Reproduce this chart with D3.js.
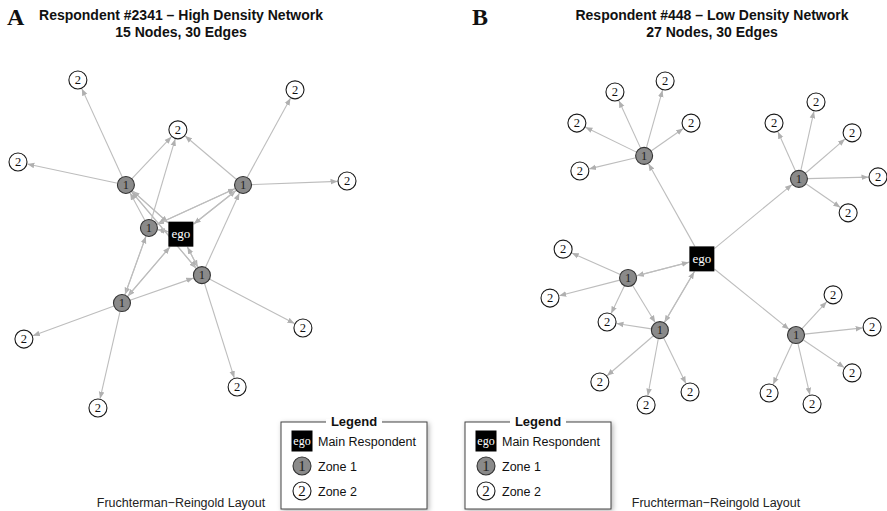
<!DOCTYPE html>
<html>
<head>
<meta charset="utf-8">
<script src="https://cdn.jsdelivr.net/npm/d3@7.9.0/dist/d3.min.js"></script>
<style>
  html, body { margin: 0; padding: 0; background: #fff; }
  svg { display: block; }
  .title { font-family: "Liberation Sans", Arial, sans-serif; font-weight: bold; font-size: 14px; fill: #111; }
  .letter { font-family: "Liberation Serif", "Times New Roman", serif; font-weight: bold; font-size: 24px; fill: #111; }
  .footer { font-family: "Liberation Sans", Arial, sans-serif; font-size: 12.5px; fill: #222; }
  .node-label { font-family: "Liberation Serif", "Times New Roman", serif; }
  .leg-text { font-family: "Liberation Sans", Arial, sans-serif; font-size: 12.5px; fill: #111; }
</style>
</head>
<body>
<svg id="chart" width="887" height="511"></svg>
<script>
// ---- data: panel A (respondent #2341) ----
// node ids, zone (0 = ego), layout coordinates (0-100 units)
const nodeIdsA  = ['ego', 'p', 'q', 'r', 's', 't', 'a', 'b', 'c', 'd', 'e', 'f', 'g', 'h', 'i'];
const nodeZoneA = [0, 1, 1, 1, 1, 1, 2, 2, 2, 2, 2, 2, 2, 2, 2];
const layoutXA  = [49.5, 32.8, 68.4, 39.8, 55.9, 31.6, 18.2, 84.2, 48.6, 0, 100, 1.8, 86.6, 66.6, 24.3];
const layoutYA  = [47.0, 32.0, 32.0, 45.1, 59.5, 68.0, 0, 3.0, 15.2, 25.0, 30.8, 79.0, 75.6, 93.6, 100];
const edgesA = [
  ['p', 'a'], ['p', 'd'], ['p', 'c'], ['q', 'c'], ['q', 'b'], ['q', 'e'], ['r', 'c'],
  ['s', 'g'], ['s', 'h'], ['t', 'f'], ['t', 'i'],
  ['ego', 'p'], ['p', 'ego'], ['ego', 'q'], ['q', 'ego'], ['ego', 'r'], ['r', 'ego'],
  ['ego', 's'], ['s', 'ego'], ['ego', 't'], ['t', 'ego'],
  ['p', 's'], ['s', 'p'], ['r', 'p'], ['q', 'r'], ['r', 'q'], ['r', 't'], ['t', 'r'],
  ['t', 's'], ['s', 'q']
];

// ---- data: panel B (respondent #448) ----
const nodeIdsB  = ['ego', 'P', 'Q', 'R', 'S', 'T',
  'p1', 'p2', 'p3', 'p4', 'p5', 'q1', 'q2', 'q3', 'q4', 'q5',
  'r1', 'r2', 'r3', 's1', 's2', 's3', 't1', 't2', 't3', 't4', 't5'];
const nodeZoneB = [0, 1, 1, 1, 1, 1, 2, 2, 2, 2, 2, 2, 2, 2, 2, 2, 2, 2, 2, 2, 2, 2, 2, 2, 2, 2, 2];
const layoutXB  = [46.3, 28.7, 75.9, 23.8, 33.5, 75.0,
  19.8, 35.1, 8.2, 43.0, 9.1, 68.3, 81.1, 92.1, 100, 90.9,
  4.0, 0, 17.4, 15.2, 29.3, 42.7, 86.3, 98.2, 92.1, 66.8, 79.9];
const layoutYB  = [54.9, 23.1, 30.2, 60.8, 76.9, 78.4,
  3.4, 0, 13.0, 13.0, 27.8, 13.0, 6.5, 16.0, 29.6, 40.7,
  51.9, 67.0, 74.4, 92.9, 100, 96.0, 66.0, 75.9, 90.1, 96.3, 99.7];
const edgesB = [
  ['P', 'p1'], ['P', 'p2'], ['P', 'p3'], ['P', 'p4'], ['P', 'p5'],
  ['Q', 'q1'], ['Q', 'q2'], ['Q', 'q3'], ['Q', 'q4'], ['Q', 'q5'],
  ['R', 'r1'], ['R', 'r2'], ['R', 'r3'],
  ['S', 'r3'], ['S', 's1'], ['S', 's2'], ['S', 's3'],
  ['T', 't1'], ['T', 't2'], ['T', 't3'], ['T', 't4'], ['T', 't5'],
  ['ego', 'P'], ['ego', 'Q'], ['ego', 'T'], ['ego', 'R'], ['R', 'ego'],
  ['ego', 'S'], ['S', 'ego'], ['R', 'S']
];

const titlesA = ['Respondent #2341 \u2013 High Density Network', '15 Nodes, 30 Edges'];
const titlesB = ['Respondent #448 \u2013 Low Density Network', '27 Nodes, 30 Edges'];
const legendItems = ['Main Respondent', 'Zone 1', 'Zone 2'];
const footerText = 'Fruchterman\u2212Reingold Layout';

const svg = d3.select('#chart');
const EGO_HALF = 12.5;
const R_Z1 = 8.5;
const R_Z2 = 9;
const EDGE_COL = '#bdbdbd';

const defs = svg.append('defs');
defs.append('marker')
    .attr('id', 'arrow')
    .attr('viewBox', '0 -5 10 10')
    .attr('refX', 10)
    .attr('refY', 0)
    .attr('markerUnits', 'userSpaceOnUse')
    .attr('markerWidth', 7)
    .attr('markerHeight', 7)
    .attr('orient', 'auto')
  .append('path')
    .attr('d', 'M0,-4L10,0L0,4Z')
    .attr('fill', '#b0b0b0');

const shadow = defs.append('filter')
    .attr('id', 'shadow')
    .attr('x', '-10%').attr('y', '-10%')
    .attr('width', '125%').attr('height', '125%');
shadow.append('feDropShadow')
    .attr('dx', 1.5).attr('dy', 1.5)
    .attr('stdDeviation', 2.5)
    .attr('flood-color', '#000')
    .attr('flood-opacity', 0.3);

const panels = [
  {
    letter: 'A', letterX: 7, titles: titlesA, titleX: 181, footerX: 181, legendX: 281,
    ids: nodeIdsA, zones: nodeZoneA, lx: layoutXA, ly: layoutYA, edges: edgesA,
    x: d3.scaleLinear().domain([0, 100]).range([18, 347]),
    y: d3.scaleLinear().domain([0, 100]).range([80, 408])
  },
  {
    letter: 'B', letterX: 472, titles: titlesB, titleX: 712, footerX: 716, legendX: 465,
    ids: nodeIdsB, zones: nodeZoneB, lx: layoutXB, ly: layoutYB, edges: edgesB,
    x: d3.scaleLinear().domain([0, 100]).range([550, 878]),
    y: d3.scaleLinear().domain([0, 100]).range([81, 405])
  }
];

// distance from node centre to its border along direction (dx, dy)
function border(zone, dx, dy) {
  const len = Math.hypot(dx, dy);
  if (zone === 0) return EGO_HALF * len / Math.max(Math.abs(dx), Math.abs(dy));
  return zone === 1 ? R_Z1 : R_Z2;
}

function drawNode(g, zone, cx, cy, r, fontSize) {
  if (zone === 0) {
    g.append('rect')
      .attr('x', cx - r).attr('y', cy - r)
      .attr('width', 2 * r).attr('height', 2 * r)
      .attr('fill', '#000');
    g.append('text')
      .attr('class', 'node-label')
      .attr('x', cx).attr('y', cy + fontSize * 0.3)
      .attr('text-anchor', 'middle')
      .attr('font-size', fontSize)
      .attr('fill', '#fff')
      .text('ego');
  } else {
    g.append('circle')
      .attr('cx', cx).attr('cy', cy).attr('r', r)
      .attr('fill', zone === 1 ? '#8a8a8a' : '#fff')
      .attr('stroke', zone === 1 ? '#333' : '#1a1a1a')
      .attr('stroke-width', 1.1);
    g.append('text')
      .attr('class', 'node-label')
      .attr('x', cx).attr('y', cy + fontSize * 0.34)
      .attr('text-anchor', 'middle')
      .attr('font-size', fontSize)
      .attr('fill', zone === 1 ? '#222' : '#111')
      .text(zone);
  }
}

panels.forEach(p => {
  const g = svg.append('g');
  const nodes = p.ids.map((id, i) => ({
    id, zone: p.zones[i], cx: p.x(p.lx[i]), cy: p.y(p.ly[i])
  }));
  const byId = new Map(nodes.map(n => [n.id, n]));

  // panel letter and titles
  g.append('text').attr('class', 'letter')
    .attr('x', p.letterX).attr('y', 25).text(p.letter);
  g.selectAll('text.title')
    .data(p.titles)
    .join('text')
      .attr('class', 'title')
      .attr('x', p.titleX)
      .attr('y', (d, i) => 20 + i * 17)
      .attr('text-anchor', 'middle')
      .text(d => d);

  // edges
  g.append('g')
    .selectAll('line')
    .data(p.edges)
    .join('line')
      .each(function([s, t]) {
        const a = byId.get(s), b = byId.get(t);
        const dx = b.cx - a.cx, dy = b.cy - a.cy;
        const len = Math.hypot(dx, dy);
        const ux = dx / len, uy = dy / len;
        const ds = border(a.zone, dx, dy), dt = border(b.zone, dx, dy) + 0.5;
        d3.select(this)
          .attr('x1', a.cx + ux * ds).attr('y1', a.cy + uy * ds)
          .attr('x2', b.cx - ux * dt).attr('y2', b.cy - uy * dt);
      })
      .attr('stroke', EDGE_COL)
      .attr('stroke-width', 1.1)
      .attr('marker-end', 'url(#arrow)');

  // nodes
  const ng = g.append('g');
  nodes.forEach(n => {
    const r = n.zone === 0 ? EGO_HALF : (n.zone === 1 ? R_Z1 : R_Z2);
    drawNode(ng, n.zone, n.cx, n.cy, r, n.zone === 0 ? 13 : 12.5);
  });

  // footer
  g.append('text').attr('class', 'footer')
    .attr('x', p.footerX).attr('y', 507)
    .attr('text-anchor', 'middle')
    .text(footerText);

  // legend
  const lx = p.legendX, ly = 422, lw = 146, lh = 87;
  const lg = g.append('g');
  lg.append('rect')
    .attr('x', lx).attr('y', ly).attr('width', lw).attr('height', lh)
    .attr('fill', '#fff')
    .attr('stroke', '#444')
    .attr('stroke-width', 1)
    .attr('filter', 'url(#shadow)');
  lg.append('rect')
    .attr('x', lx + lw / 2 - 28).attr('y', ly - 3)
    .attr('width', 56).attr('height', 6)
    .attr('fill', '#fff');
  lg.append('text')
    .attr('x', lx + lw / 2).attr('y', ly + 4)
    .attr('text-anchor', 'middle')
    .attr('font-family', '"Liberation Sans", Arial, sans-serif')
    .attr('font-weight', 'bold')
    .attr('font-size', 13)
    .attr('fill', '#111')
    .text('Legend');
  legendItems.forEach((label, i) => {
    const cy = ly + 19 + i * 25;
    drawNode(lg, i, lx + 21, cy, i === 0 ? 10.5 : 9, i === 0 ? 12 : 15);
    lg.append('text').attr('class', 'leg-text')
      .attr('x', lx + 37).attr('y', cy + 4.5)
      .text(label);
  });
});
</script>
</body>
</html>
